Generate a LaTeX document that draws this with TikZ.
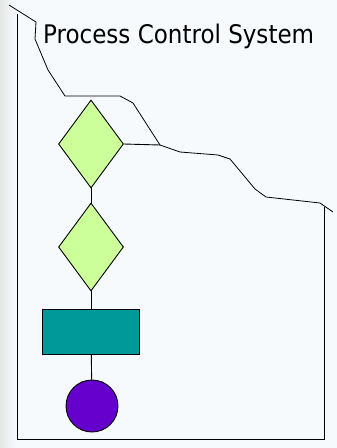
\documentclass[tikz,border=0pt]{standalone}
\usepackage{fontspec}
\setmainfont{DejaVu Sans Condensed}
\usetikzlibrary{shapes.geometric}
\definecolor{bgblue}{RGB}{246,250,253}
\definecolor{lime}{RGB}{204,255,153}
\definecolor{tealbox}{RGB}{0,153,153}
\definecolor{violet}{RGB}{102,0,204}
\begin{document}
\begin{tikzpicture}[x=1pt,y=-1pt,
dia/.style = {draw,diamond,inner sep=0pt,minimum width=65pt,minimum height=88pt,fill=lime,line width=0.9pt},
box/.style = {draw,rectangle,inner sep=0pt,minimum width=97pt,minimum height=45pt,fill=tealbox,line width=0.9pt},
circ/.style = {draw,circle,inner sep=0pt,minimum size=52pt,fill=violet,line width=0.9pt},
edg/.style = {draw,line width=0.9pt},
rim/.style = {draw,line width=0.8pt}
]
  % backdrop
  \fill[bgblue] (0,0) rectangle (337,448);
  \shade[left color=black!10,right color=bgblue] (0,0) rectangle (16,448);
  \useasboundingbox (0,0) rectangle (337,448);

  % outline of the system
  \path[rim] (17,14) -- (17,439) -- (324,439) -- (324,207);
  \path[rim] (9,5) -- (36,22) -- (35,39) -- (48,70) -- (65,96) -- (120,96)
    -- (133,103) -- (160,145) -- (180,152) -- (218,155) -- (230,159)
    -- (255,189) -- (266,197) -- (320,203) -- (333,212);
  \coordinate (tap) at (160,145);

  \node[anchor=base west,inner sep=0pt,font=\fontsize{25.6}{30}\selectfont] (title) at (43,43) {Process Control System};

  \node[dia] (d1) at (91,144) {};
  \node[dia] (d2) at (91,247) {};
  \node[box] (b1) at (91,332) {};
  \node[circ] (c1) at (92,406) {};

  \path[edg] (d1.east) -- (tap);
  \path[edg] (d1) -- (d2);
  \path[edg] (d2) -- (b1);
  \path[edg] (b1) -- (c1);
\end{tikzpicture}
\end{document}
